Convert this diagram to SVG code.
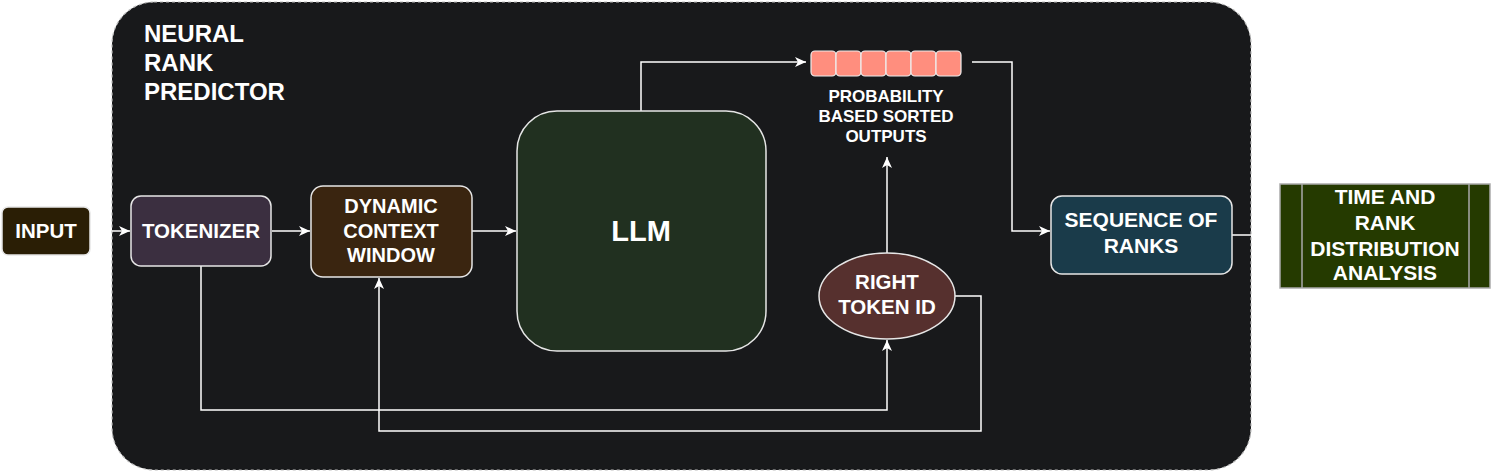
<svg xmlns="http://www.w3.org/2000/svg" width="1491" height="473" viewBox="0 0 1491 473">
<style>
text{font-family:"Liberation Sans",Arial,sans-serif;font-weight:bold;fill:#ffffff;text-anchor:middle}
.box{stroke:#e6e6e6;stroke-width:1.5}
.conn{fill:none;stroke:#ffffff;stroke-width:1.5}
.cell{fill:#ff8e7e;stroke:#eeeeee;stroke-width:1.2}
</style>
<defs>
<marker id="arr" markerWidth="12" markerHeight="12" refX="11" refY="6" orient="auto" markerUnits="userSpaceOnUse">
<path d="M0,1 L11,6 L0,11 L3,6 Z" fill="#ffffff"/>
</marker>
</defs>
<rect width="1491" height="473" fill="#ffffff"/>
<g id="container">
<rect x="112" y="2" width="1139" height="468" rx="42" fill="#18191b" stroke="#bbbbbb" stroke-width="1.2" stroke-dasharray="3,3"/>
<text x="144" y="42" font-size="24" style="text-anchor:start">NEURAL</text>
<text x="144" y="71" font-size="24" style="text-anchor:start">RANK</text>
<text x="144" y="100" font-size="24" style="text-anchor:start">PREDICTOR</text>
</g>
<g id="connectors">
<line class="conn" x1="112" y1="231" x2="130" y2="231" marker-end="url(#arr)"/>
<line class="conn" x1="272" y1="231" x2="310" y2="231" marker-end="url(#arr)"/>
<line class="conn" x1="472" y1="231" x2="516" y2="231" marker-end="url(#arr)"/>
<polyline class="conn" points="641,111 641,62 806,62" marker-end="url(#arr)"/>
<polyline class="conn" points="972,62 1012,62 1012,231 1050,231" marker-end="url(#arr)"/>
<line class="conn" x1="1232" y1="235" x2="1251" y2="235"/>
<line class="conn" x1="887" y1="253" x2="887" y2="157" marker-end="url(#arr)"/>
<polyline class="conn" points="201,266 201,410 887,410 887,340" marker-end="url(#arr)"/>
<polyline class="conn" points="955,296 981,296 981,431 379,431 379,278" marker-end="url(#arr)"/>
</g>
<g id="input">
<rect class="box" x="2" y="207" width="88" height="48" rx="6" fill="#2a1e05" stroke-width="1"/>
<text x="46" y="238" font-size="20.5">INPUT</text>
</g>
<g id="tokenizer">
<rect class="box" x="131" y="196" width="140" height="70" rx="10" fill="#3b2f40"/>
<text x="201" y="238" font-size="20.5">TOKENIZER</text>
</g>
<g id="dcw">
<rect class="box" x="311" y="186" width="161" height="91" rx="12" fill="#3a2510"/>
<text x="391" y="213" font-size="20">DYNAMIC</text>
<text x="391" y="238" font-size="20">CONTEXT</text>
<text x="391" y="262" font-size="20">WINDOW</text>
</g>
<g id="llm">
<rect class="box" x="517" y="111" width="249" height="240" rx="40" fill="#213020"/>
<text x="641" y="241" font-size="29">LLM</text>
</g>
<g id="prob">
<rect class="cell" x="811" y="51" width="25" height="25" rx="4"/>
<rect class="cell" x="836" y="51" width="25" height="25" rx="4"/>
<rect class="cell" x="861" y="51" width="25" height="25" rx="4"/>
<rect class="cell" x="886" y="51" width="25" height="25" rx="4"/>
<rect class="cell" x="911" y="51" width="25" height="25" rx="4"/>
<rect class="cell" x="936" y="51" width="25" height="25" rx="4"/>
<text x="886" y="102" font-size="17">PROBABILITY</text>
<text x="886" y="122" font-size="17">BASED SORTED</text>
<text x="886" y="142" font-size="17">OUTPUTS</text>
</g>
<g id="right-token">
<ellipse class="box" cx="887" cy="296" rx="68" ry="43" fill="#56302e"/>
<text x="887" y="289" font-size="20.5">RIGHT</text>
<text x="887" y="314" font-size="20.5">TOKEN ID</text>
</g>
<g id="seq">
<rect class="box" x="1051" y="196" width="181" height="78" rx="11" fill="#1a3b4a"/>
<text x="1141" y="227" font-size="21">SEQUENCE OF</text>
<text x="1141" y="253" font-size="21">RANKS</text>
</g>
<g id="analysis">
<rect x="1280" y="184" width="210" height="104" fill="#253a00" stroke="#aaaaaa" stroke-width="1.5"/>
<line x1="1302" y1="184" x2="1302" y2="288" stroke="#aaaaaa" stroke-width="1.5"/>
<line x1="1469" y1="184" x2="1469" y2="288" stroke="#aaaaaa" stroke-width="1.5"/>
<text x="1385" y="204" font-size="21">TIME AND</text>
<text x="1385" y="230" font-size="21">RANK</text>
<text x="1385" y="256" font-size="21">DISTRIBUTION</text>
<text x="1385" y="280" font-size="21">ANALYSIS</text>
</g>
</svg>
